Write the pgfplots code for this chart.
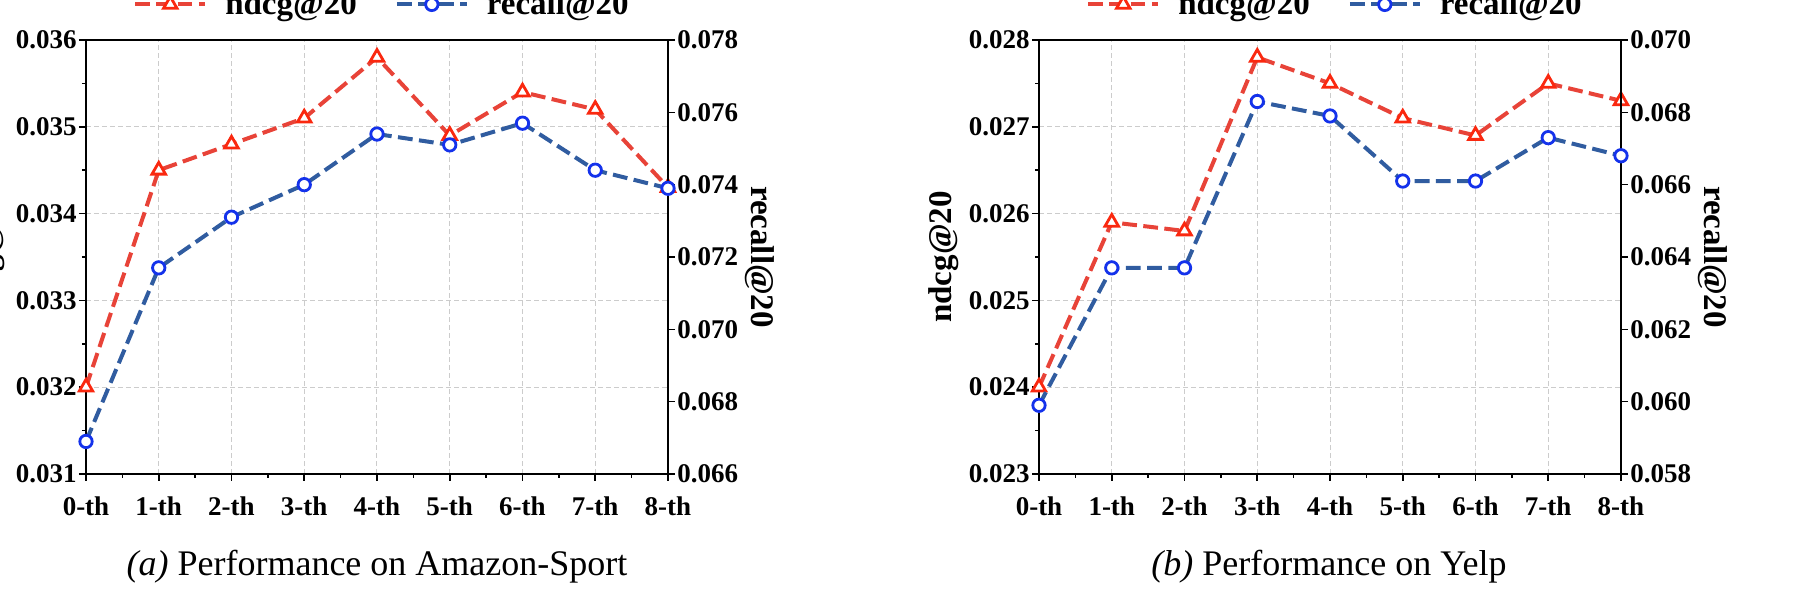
\documentclass[border=0pt]{standalone}
\usepackage{fontspec}
\setmainfont{Liberation Serif}
\usepackage{pgfplots}
\pgfplotsset{compat=1.18}

\definecolor{lred}{RGB}{232,67,56}
\definecolor{mred}{RGB}{250,40,15}
\definecolor{lblue}{RGB}{48,92,160}
\definecolor{mblue}{RGB}{20,50,235}

\pgfplotsset{
  base/.style={
    width=291pt, height=217pt, scale only axis,
    xmin=0, xmax=8,
    axis line style={line width=0.8pt, black},
    tick style={line width=0.8pt, black},
    major tick length=3.5pt, minor tick length=2pt,
    tick align=outside,
    scaled y ticks=false,
    ticklabel style={font=\bfseries\fontsize{13.5}{13.5}\selectfont, inner sep=1pt},
    /pgf/number format/assume math mode=true,
    label style={font=\bfseries\fontsize{16.5}{16.5}\selectfont},
  },
  ndcgstyle/.style={color=lred, line width=2pt, dash pattern=on 7.4pt off 3.2pt,
    mark=triangle*, mark size=3.9pt,
    mark options={solid, draw=mred, fill=white, line width=1.4pt}},
  recstyle/.style={color=lblue, line width=2pt, dash pattern=on 7.4pt off 3.2pt,
    mark=*, mark size=3.1pt,
    mark options={solid, draw=mblue, fill=white, line width=1.4pt}},
  prim/.style={
    base, tick pos=left,
    xtick={0,1,2,3,4,5,6,7,8},
    xticklabels={0-th,1-th,2-th,3-th,4-th,5-th,6-th,7-th,8-th},
    minor x tick num=1, minor y tick num=1,
    grid=major,
    major grid style={dash pattern=on 2.5pt off 1.5pt, gray!40, line width=0.5pt},
    xticklabel style={yshift=-6.5pt},
    ylabel={ndcg@20},
    ylabel style={at={(axis description cs:0,0.5)}, anchor=base, yshift=44pt},
  },
  sec/.style={
    base, axis y line*=right, axis x line=none,
    ylabel={recall@20},
    ylabel style={at={(axis description cs:1,0.5)}, rotate=180, anchor=base, yshift=42pt},
    legend columns=2,
    legend style={at={(axis description cs:0.5,1)}, anchor=center, yshift=17.8pt, xshift=3pt,
      draw=none, fill=none, font=\bfseries\fontsize{16.5}{16.5}\selectfont,
      /tikz/every odd column/.append style={column sep=7pt},
      /tikz/every even column/.append style={column sep=17pt}},
    legend image code/.code={\draw[mark repeat=2,mark phase=2,##1] plot coordinates {(0pt,0pt) (17.5pt,0pt) (35pt,0pt)};},
  },
}

\begin{document}
\begin{tikzpicture}
% ---------------- (a) Amazon-Sport ----------------
\begin{axis}[prim, at={(43pt,-20pt)}, anchor=north west,
  ymin=0.031, ymax=0.036,
  ytick={0.031,0.032,0.033,0.034,0.035,0.036},
  yticklabels={0.031,0.032,0.033,0.034,0.035,0.036}]
\addplot[ndcgstyle] coordinates {(0,0.0320) (1,0.0345) (2,0.0348) (3,0.0351) (4,0.0358) (5,0.0349) (6,0.0354) (7,0.0352) (8,0.0343)};
\end{axis}
\begin{axis}[sec, at={(43pt,-20pt)}, anchor=north west,
  ymin=0.066, ymax=0.078,
  ytick={0.066,0.068,0.070,0.072,0.074,0.076,0.078},
  yticklabels={0.066,0.068,0.070,0.072,0.074,0.076,0.078}]
\addlegendimage{ndcgstyle}
\addlegendentry{ndcg@20}
\addplot[recstyle] coordinates {(0,0.0669) (1,0.0717) (2,0.0731) (3,0.0740) (4,0.0754) (5,0.0751) (6,0.0757) (7,0.0744) (8,0.0739)};
\addlegendentry{recall@20}
\end{axis}
% ---------------- (b) Yelp ----------------
\begin{axis}[prim, at={(519.5pt,-20pt)}, anchor=north west,
  ymin=0.023, ymax=0.028,
  ytick={0.023,0.024,0.025,0.026,0.027,0.028},
  yticklabels={0.023,0.024,0.025,0.026,0.027,0.028}]
\addplot[ndcgstyle] coordinates {(0,0.0240) (1,0.0259) (2,0.0258) (3,0.0278) (4,0.0275) (5,0.0271) (6,0.0269) (7,0.0275) (8,0.0273)};
\end{axis}
\begin{axis}[sec, at={(519.5pt,-20pt)}, anchor=north west,
  ymin=0.058, ymax=0.070,
  ytick={0.058,0.060,0.062,0.064,0.066,0.068,0.070},
  yticklabels={0.058,0.060,0.062,0.064,0.066,0.068,0.070}]
\addlegendimage{ndcgstyle}
\addlegendentry{ndcg@20}
\addplot[recstyle] coordinates {(0,0.0599) (1,0.0637) (2,0.0637) (3,0.0683) (4,0.0679) (5,0.0661) (6,0.0661) (7,0.0673) (8,0.0668)};
\addlegendentry{recall@20}
\end{axis}
% captions
\node[anchor=base, font=\fontsize{18}{18}\selectfont] at (188.5pt,-287.5pt) {\textit{(a)} Performance on Amazon-Sport};
\node[anchor=base, font=\fontsize{18}{18}\selectfont] at (664.5pt,-287.5pt) {\textit{(b)} Performance on Yelp};
\pgfresetboundingbox
\path[use as bounding box] (0pt,0pt) rectangle (900pt,-300pt);
\end{tikzpicture}
\end{document}
